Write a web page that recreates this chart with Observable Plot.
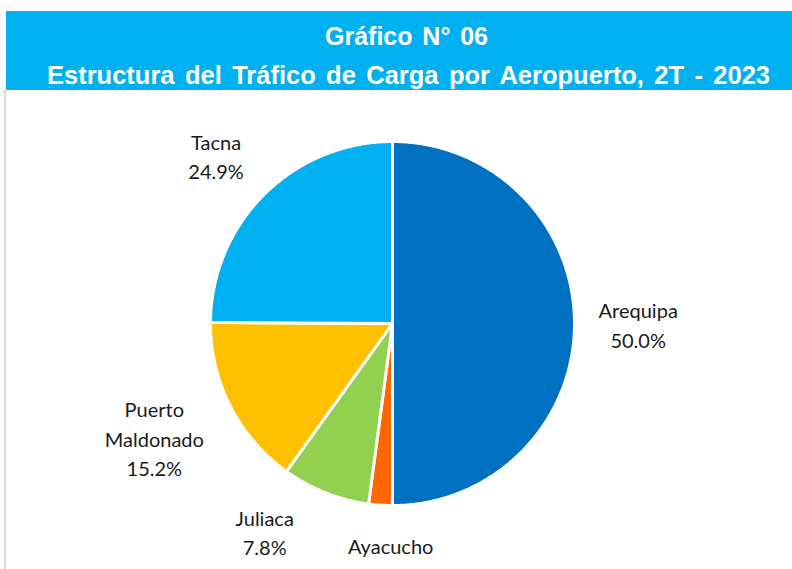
<!DOCTYPE html>
<html><head><meta charset="utf-8">
<script src="https://cdn.jsdelivr.net/npm/d3@7"></script>
<script src="https://cdn.jsdelivr.net/npm/@observablehq/plot@0.6"></script>
<style>
html,body{margin:0;padding:0;background:#fff;width:792px;height:569px;overflow:hidden;}
#wrap{position:relative;width:792px;height:569px;}
#band{position:absolute;left:6px;top:11px;width:786px;height:79px;background:#00B0F0;}
.tl{position:absolute;white-space:nowrap;color:#fff;font-family:"Liberation Sans",Arial,sans-serif;font-weight:bold;transform-origin:0 50%;}
#t1{font-size:25px;line-height:25px;}
#t2{font-size:25.5px;line-height:26px;}
#chart{position:absolute;left:0;top:90px;width:792px;height:479px;}
#frame{position:absolute;left:4px;top:90px;width:2px;height:479px;background:#d9d9d9;}
</style></head>
<body><div id="wrap">
<div id="band"></div>
<span class="tl" id="t1">Gráfico N° 06</span>
<span class="tl" id="t2">Estructura del Tráfico de Carga por Aeropuerto, 2T - 2023</span>
<div id="frame"></div>
<div id="chart"></div>
</div>
<script>
const airports = ["Arequipa", "Ayacucho", "Juliaca", "Puerto Maldonado", "Tacna"];
const shares = [50.0, 2.1, 7.8, 15.2, 24.9];
const labelNames = ["Arequipa", "Ayacucho", "Juliaca", "Puerto\nMaldonado", "Tacna"];
const showPercent = [true, false, true, true, true];
const colors = ["#0070C0", "#FF6600", "#92D050", "#FFC000", "#00B0F0"];

// title layout: fit each line between its edges using word spacing
function fitLine(id, left, right, baseline) {
  const el = document.getElementById(id);
  const n = (el.textContent.match(/ /g) || []).length;
  const w0 = el.getBoundingClientRect().width;
  el.style.wordSpacing = ((right - left) - w0) / n + "px";
  el.style.left = left + "px";
  const fs = parseFloat(getComputedStyle(el).fontSize);
  const lh = parseFloat(getComputedStyle(el).lineHeight);
  el.style.top = (baseline - lh / 2 - fs * 0.33) + "px";
}
fitLine("t1", 325, 488, 45);
fitLine("t2", 47, 770, 83);

const W = 792, H = 479, R = 182, cx = 392, cy = 233;
// label placement: radius factor and angular turn (degrees) from slice mid-angle
const placement = {
  "Arequipa": {f: 1.35, turn: 0},
  "Ayacucho": {f: 1.215, turn: -3.3},
  "Juliaca": {f: 1.34, turn: 10},
  "Puerto Maldonado": {f: 1.45, turn: 1.5},
  "Tacna": {f: 1.34, turn: -1.5}
};
const data = airports.map((a, i) => ({airport: a, share: shares[i], label: labelNames[i], pct: showPercent[i]}));
const pie = d3.pie().sort(null).value(d => d.share)(data);

const pts = [];
pie.forEach(p => {
  const n = Math.max(4, Math.ceil((p.endAngle - p.startAngle) / 0.01));
  pts.push({airport: p.data.airport, x: 0, y: 0});
  for (let k = 0; k <= n; k++) {
    const t = p.startAngle + (p.endAngle - p.startAngle) * k / n;
    pts.push({airport: p.data.airport, x: Math.sin(t), y: Math.cos(t)});
  }
  pts.push({airport: p.data.airport, x: 0, y: 0});
});
const labels = pie.map(p => {
  const pl = placement[p.data.airport];
  const m = (p.startAngle + p.endAngle) / 2 + pl.turn * Math.PI / 180;
  return {airport: p.data.airport, x: pl.f * Math.sin(m), y: pl.f * Math.cos(m),
          text: p.data.label + (p.data.pct ? "\n" + p.data.share.toFixed(1) + "%" : "")};
});

const chart = Plot.plot({
  width: W, height: H, margin: 0,
  x: {domain: [-cx / R, (W - cx) / R], axis: null},
  y: {domain: [-(H - cy) / R, cy / R], axis: null},
  color: {domain: airports, range: colors},
  style: {background: "transparent", overflow: "visible"},
  marks: [
    Plot.line(pts, {x: "x", y: "y", z: "airport", fill: "airport", stroke: "#fff", strokeWidth: 3, strokeLinejoin: "miter", curve: "linear"}),
    Plot.text(labels, {x: "x", y: "y", text: "text", fontSize: 20, lineHeight: 1.48, fill: "#1a1a1a",
      fontFamily: "Lato, 'Open Sans', sans-serif", textAnchor: "middle", letterSpacing: 0.4})
  ]
});
document.getElementById("chart").appendChild(chart);
</script>
</body></html>
